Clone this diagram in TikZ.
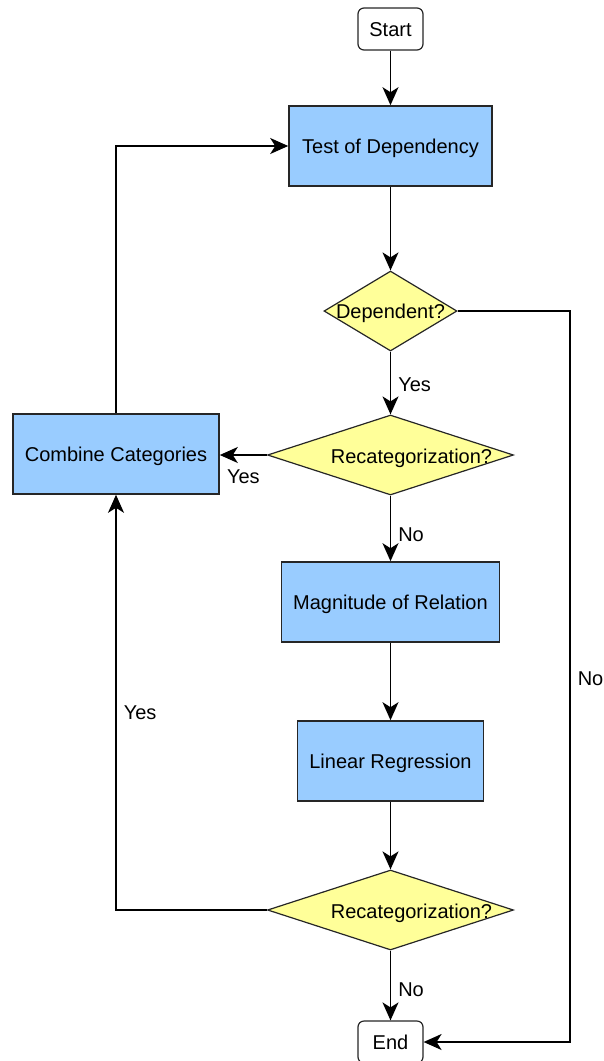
\documentclass[tikz,border=0pt]{standalone}
\usepackage{fontspec}
\setmainfont{Liberation Sans}
\usetikzlibrary{shapes.geometric,arrows.meta}
\definecolor{boxblue}{HTML}{99CCFF}
\definecolor{decyellow}{HTML}{FFFF99}
\tikzset{
  every node/.style={font=\fontsize{20}{24}\selectfont, text height=15.5, text depth=0},
  process/.style={draw=black!85, line width=1.6, fill=boxblue, minimum height=80, inner sep=0},
  terminal/.style={draw=black!85, line width=1.2, fill=white, rounded corners=6, minimum width=65, minimum height=42, inner sep=0},
  decision/.style={draw=black!85, line width=1.2, fill=decyellow, diamond, inner sep=0},
  arr/.style={draw=black, line width=1.6, -{Stealth[length=18,width=16,inset=5]}},
  lab/.style={inner sep=0, text=black},
}
\begin{document}
\begin{tikzpicture}[x=1pt,y=-1pt]
\useasboundingbox (0,0) rectangle (603,1061);

% nodes
\node[terminal] (start) at (390.5,29) {Start};
\node[process, minimum width=203] (test) at (390.5,146) {Test of Dependency};
\node[decision, minimum width=133, minimum height=80] (dep) at (390.5,311) {};
\node[lab] (dept) at (390.5,311) {Dependent?};
\node[decision, minimum width=246, minimum height=80] (rc1) at (390.5,455) {};
\node[lab, xshift=21] (rc1t) at (390.5,456) {Recategorization?};
\node[process, minimum width=206] (comb) at (116,454) {Combine Categories};
\node[process, minimum width=218] (mag) at (390.5,602) {Magnitude of Relation};
\node[process, minimum width=186] (lin) at (390.5,761) {Linear Regression};
\node[decision, minimum width=246, minimum height=80] (rc2) at (390.5,910) {};
\node[lab, xshift=21] (rc2t) at (390.5,911) {Recategorization?};
\node[terminal] (end) at (390.5,1042) {End};
\coordinate (rr) at (570,311);
\coordinate (rb) at (570,1042);

% connectors
\draw[arr] (start) -- (test);
\draw[arr] (test) -- (dep);
\draw[arr] (dep) -- node[lab, right, xshift=7, yshift=-1] (l1) {Yes} (rc1);
\draw[arr] (rc1.west) -- (comb.east |- rc1.west);
\node[lab, anchor=north west] (l2) at ([xshift=7,yshift=-14]comb.east) {Yes};
\draw[arr] (rc1) -- node[lab, right, xshift=7, yshift=-5] (l3) {No} (mag);
\draw[arr] (mag) -- (lin);
\draw[arr] (lin) -- (rc2);
\draw[arr] (rc2) -- node[lab, right, xshift=7, yshift=-3] (l4) {No} (end);
\draw[arr] (rc2.west) -| node[lab, pos=0.739, right, xshift=7] (l5) {Yes} (comb.south);
\draw[arr] (comb.north) |- (test.west);
\draw[arr] (dep.east) -- (rr) -- node[lab, pos=0.502, right, xshift=7] (l6) {No} (rb) -- (end.east);
\end{tikzpicture}
\end{document}
